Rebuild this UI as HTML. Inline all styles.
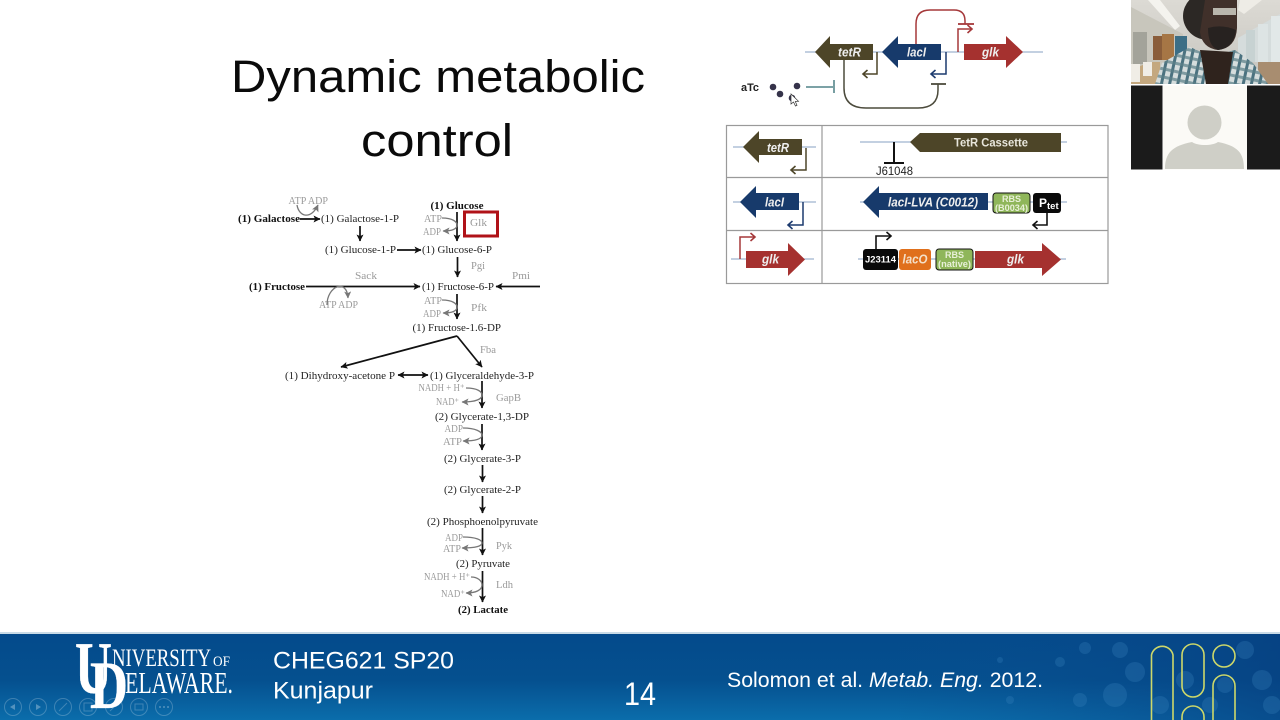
<!DOCTYPE html>
<html lang="en"><head><meta charset="utf-8"><title>Dynamic metabolic control</title>
<style>
html,body{margin:0;padding:0;background:#fff;width:1280px;height:720px;overflow:hidden}
svg{display:block}
text{font-family:"Liberation Sans",sans-serif}
.s text,text.s{font-family:"Liberation Serif",serif;font-size:10.5px;fill:#222}
.g text,text.g{font-family:"Liberation Serif",serif;font-size:10px;fill:#9a9a9a}
.b{font-weight:bold;fill:#111 !important}
.k{stroke:#111;stroke-width:1.7;fill:none}
.c{stroke:#777;stroke-width:1.3;fill:none}
.gi{font-weight:bold;font-style:italic;fill:#eee;font-size:12.5px}
</style></head><body>
<svg width="1280" height="720" viewBox="0 0 1280 720" xmlns="http://www.w3.org/2000/svg">
<defs>
<marker id="ak" markerWidth="8" markerHeight="8" refX="6.5" refY="3.5" orient="auto" markerUnits="userSpaceOnUse"><path d="M0 0L7 3.5L0 7L1.6 3.5Z" fill="#111"/></marker>
<marker id="aks" markerWidth="8" markerHeight="8" refX="0.5" refY="3.5" orient="auto" markerUnits="userSpaceOnUse"><path d="M7 0L0 3.5L7 7L5.4 3.5Z" fill="#111"/></marker>
<marker id="ag" markerWidth="8" markerHeight="8" refX="6.5" refY="3.5" orient="auto" markerUnits="userSpaceOnUse"><path d="M0 0L7 3.5L0 7L1.6 3.5Z" fill="#777"/></marker>
<marker id="ao" markerWidth="9" markerHeight="9" refX="7" refY="4.5" orient="auto" markerUnits="userSpaceOnUse"><path d="M2.5 0.5L7 4.5L2.5 8.5" fill="none" stroke="#4d4528" stroke-width="1.6"/></marker>
<marker id="an" markerWidth="9" markerHeight="9" refX="7" refY="4.5" orient="auto" markerUnits="userSpaceOnUse"><path d="M2.5 0.5L7 4.5L2.5 8.5" fill="none" stroke="#1c3a6e" stroke-width="1.6"/></marker>
<marker id="ar" markerWidth="9" markerHeight="9" refX="7" refY="4.5" orient="auto" markerUnits="userSpaceOnUse"><path d="M2.5 0.5L7 4.5L2.5 8.5" fill="none" stroke="#a5383a" stroke-width="1.6"/></marker>
<marker id="ab" markerWidth="9" markerHeight="9" refX="7" refY="4.5" orient="auto" markerUnits="userSpaceOnUse"><path d="M2.5 0.5L7 4.5L2.5 8.5" fill="none" stroke="#111" stroke-width="1.6"/></marker>
<linearGradient id="foot" x1="0" y1="0" x2="0" y2="1"><stop offset="0" stop-color="#044a8b"/><stop offset="0.55" stop-color="#05508f"/><stop offset="1" stop-color="#0b6dab"/></linearGradient>
<linearGradient id="footr" x1="0" y1="0" x2="1" y2="0"><stop offset="0" stop-color="#0b5a9c" stop-opacity="0"/><stop offset="0.7" stop-color="#0a4f90" stop-opacity="0"/><stop offset="1" stop-color="#073f80" stop-opacity=".7"/></linearGradient>
<pattern id="plaid" width="8" height="8" patternUnits="userSpaceOnUse" patternTransform="rotate(12)"><rect width="8" height="8" fill="#d5dddd"/><rect width="3" height="8" fill="#4b7280"/><rect width="8" height="3" fill="#5c7f88" opacity=".7"/></pattern>
<linearGradient id="ceil" x1="0" y1="0" x2="0" y2="1"><stop offset="0" stop-color="#dcdad4"/><stop offset="1" stop-color="#c6c4be"/></linearGradient>
</defs>

<rect width="1280" height="720" fill="#fff"/>

<!-- Title -->
<text x="231" y="92" font-size="45" fill="#0a0a0a" textLength="414" lengthAdjust="spacingAndGlyphs">Dynamic metabolic</text>
<text x="361" y="156" font-size="45" fill="#0a0a0a" textLength="152" lengthAdjust="spacingAndGlyphs">control</text>

<!-- Pathway labels -->
<g class="s">
<text x="238" y="222" class="b" textLength="62" lengthAdjust="spacingAndGlyphs">(1) Galactose</text>
<text x="321" y="222" textLength="78" lengthAdjust="spacingAndGlyphs">(1) Galactose-1-P</text>
<text x="430.5" y="209" class="b" textLength="53" lengthAdjust="spacingAndGlyphs">(1) Glucose</text>
<text x="325" y="253" textLength="71" lengthAdjust="spacingAndGlyphs">(1) Glucose-1-P</text>
<text x="422" y="253" textLength="70" lengthAdjust="spacingAndGlyphs">(1) Glucose-6-P</text>
<text x="249" y="290" class="b" textLength="56" lengthAdjust="spacingAndGlyphs">(1) Fructose</text>
<text x="422" y="290" textLength="72" lengthAdjust="spacingAndGlyphs">(1) Fructose-6-P</text>
<text x="412.5" y="331" textLength="88.5" lengthAdjust="spacingAndGlyphs">(1) Fructose-1.6-DP</text>
<text x="285" y="379" textLength="110" lengthAdjust="spacingAndGlyphs">(1) Dihydroxy-acetone P</text>
<text x="430" y="379" textLength="104" lengthAdjust="spacingAndGlyphs">(1) Glyceraldehyde-3-P</text>
<text x="435" y="420" textLength="94" lengthAdjust="spacingAndGlyphs">(2) Glycerate-1,3-DP</text>
<text x="444" y="462" textLength="77" lengthAdjust="spacingAndGlyphs">(2) Glycerate-3-P</text>
<text x="444" y="493" textLength="77" lengthAdjust="spacingAndGlyphs">(2) Glycerate-2-P</text>
<text x="427" y="525" textLength="111" lengthAdjust="spacingAndGlyphs">(2) Phosphoenolpyruvate</text>
<text x="456" y="567" textLength="54" lengthAdjust="spacingAndGlyphs">(2) Pyruvate</text>
<text x="458" y="613" class="b" textLength="50" lengthAdjust="spacingAndGlyphs">(2) Lactate</text>
</g>
<g class="g">
<text x="288.5" y="204" textLength="39.5" lengthAdjust="spacingAndGlyphs">ATP ADP</text>
<text x="424" y="222" textLength="18" lengthAdjust="spacingAndGlyphs">ATP</text>
<text x="423" y="235" textLength="18" lengthAdjust="spacingAndGlyphs">ADP</text>
<text x="470" y="226" textLength="17" lengthAdjust="spacingAndGlyphs">Glk</text>
<text x="471" y="269" textLength="14" lengthAdjust="spacingAndGlyphs">Pgi</text>
<text x="355" y="279" textLength="22" lengthAdjust="spacingAndGlyphs">Sack</text>
<text x="512" y="279" textLength="18" lengthAdjust="spacingAndGlyphs">Pmi</text>
<text x="319" y="308" textLength="39" lengthAdjust="spacingAndGlyphs">ATP ADP</text>
<text x="424" y="304" textLength="18" lengthAdjust="spacingAndGlyphs">ATP</text>
<text x="423" y="317" textLength="18" lengthAdjust="spacingAndGlyphs">ADP</text>
<text x="471" y="311" textLength="16" lengthAdjust="spacingAndGlyphs">Pfk</text>
<text x="480" y="353" textLength="16" lengthAdjust="spacingAndGlyphs">Fba</text>
<text x="418.5" y="391" textLength="46" lengthAdjust="spacingAndGlyphs">NADH + H⁺</text>
<text x="436" y="405" textLength="23" lengthAdjust="spacingAndGlyphs">NAD⁺</text>
<text x="496" y="401" textLength="25" lengthAdjust="spacingAndGlyphs">GapB</text>
<text x="444.5" y="432" textLength="18.5" lengthAdjust="spacingAndGlyphs">ADP</text>
<text x="443" y="445" textLength="19" lengthAdjust="spacingAndGlyphs">ATP</text>
<text x="445" y="541" textLength="18" lengthAdjust="spacingAndGlyphs">ADP</text>
<text x="443" y="552" textLength="18" lengthAdjust="spacingAndGlyphs">ATP</text>
<text x="496" y="549" textLength="16" lengthAdjust="spacingAndGlyphs">Pyk</text>
<text x="424" y="580" textLength="46" lengthAdjust="spacingAndGlyphs">NADH + H⁺</text>
<text x="441" y="597" textLength="24" lengthAdjust="spacingAndGlyphs">NAD⁺</text>
<text x="496" y="588" textLength="17" lengthAdjust="spacingAndGlyphs">Ldh</text>
</g>

<!-- Red box -->
<rect x="464.5" y="212" width="33" height="24" fill="none" stroke="#b01218" stroke-width="3"/>

<!-- Pathway arrows -->
<g class="k">
<path d="M300 219H320" marker-end="url(#ak)"/>
<path d="M360 226V241" marker-end="url(#ak)"/>
<path d="M457 212V241" marker-end="url(#ak)"/>
<path d="M397 250H421" marker-end="url(#ak)"/>
<path d="M457.5 257V277" marker-end="url(#ak)"/>
<path d="M306 286.5H420" marker-end="url(#ak)"/>
<path d="M540 286.5H496" marker-end="url(#ak)"/>
<path d="M457 294V319" marker-end="url(#ak)"/>
<path d="M457 336L341 367" marker-end="url(#ak)"/>
<path d="M457 336L482 367" marker-end="url(#ak)"/>
<path d="M398 375H428" marker-start="url(#aks)" marker-end="url(#ak)"/>
<path d="M482 381V408" marker-end="url(#ak)"/>
<path d="M482 424V450" marker-end="url(#ak)"/>
<path d="M482.5 465V482" marker-end="url(#ak)"/>
<path d="M482.5 496V513" marker-end="url(#ak)"/>
<path d="M482.5 528V555" marker-end="url(#ak)"/>
<path d="M482.5 571V602" marker-end="url(#ak)"/>
</g>
<g class="c">
<path d="M297 205C299 217 311 220 318 205" marker-end="url(#ag)"/>
<path d="M442 218C453 218 457 222 457 225C457 229 452 231 443 231" marker-end="url(#ag)"/>
<path d="M327 305C327 286 347 278 348 298" marker-end="url(#ag)"/>
<path d="M442 300C453 300 457 304 457 307C457 311 452 313 443 313" marker-end="url(#ag)"/>
<path d="M466 388C478 388 482 392 482 395C482 399 476 402 462 402" marker-end="url(#ag)"/>
<path d="M463 428C476 428 482 432 482 435C482 439 476 441 463 441" marker-end="url(#ag)"/>
<path d="M463 537C476 537 482 540 482 543C482 546 476 548 462 548" marker-end="url(#ag)"/>
<path d="M471 577C478 577 482 581 482 585C482 590 476 593 466 593" marker-end="url(#ag)"/>
</g>

<!-- Top circuit -->
<path d="M805 52H1043" stroke="#9fb3cf" stroke-width="1.2"/>
<polygon points="815,52 830,36 830,44 873,44 873,60 830,60 830,68" fill="#4d4528"/>
<polygon points="882,52 898,36 898,44 941,44 941,60 898,60 898,68" fill="#173a6b"/>
<polygon points="964,44 1006,44 1006,36 1023,52 1006,68 1006,60 964,60" fill="#a5312f"/>
<text x="838" y="56.5" class="gi" textLength="23" lengthAdjust="spacingAndGlyphs">tetR</text>
<text x="907" y="56.5" class="gi" textLength="19" lengthAdjust="spacingAndGlyphs">lacI</text>
<text x="982" y="56.5" class="gi" textLength="17" lengthAdjust="spacingAndGlyphs">glk</text>
<path d="M916 44V24Q916 10 930 10H954Q965 10 965 21V24" fill="none" stroke="#a5383a" stroke-width="1.5"/>
<path d="M958 24H974" stroke="#a5383a" stroke-width="1.8"/>
<path d="M958 52V29H972" fill="none" stroke="#a5383a" stroke-width="1.5" marker-end="url(#ar)"/>
<path d="M877 52V74H863" fill="none" stroke="#4d4528" stroke-width="1.5" marker-end="url(#ao)"/>
<path d="M946 52V74H931" fill="none" stroke="#1c3a6e" stroke-width="1.5" marker-end="url(#an)"/>
<path d="M844 60V88Q844 108 866 108H918Q938 108 938 90V84" fill="none" stroke="#4c4b3c" stroke-width="1.5"/>
<path d="M931 84H946" stroke="#4c4b3c" stroke-width="1.8"/>
<text x="741" y="91" font-size="11" font-weight="bold" fill="#222" textLength="18" lengthAdjust="spacingAndGlyphs">aTc</text>
<g fill="#35334a"><circle cx="773" cy="87" r="3.3"/><circle cx="780" cy="94" r="3.3"/><circle cx="797" cy="86" r="3.3"/><circle cx="792" cy="98" r="3.3"/></g>
<path d="M806 87H833M834 80V93" fill="none" stroke="#2f6b70" stroke-width="1.3"/>
<path d="M791 94V104L793.5 102L795.5 106L797 105.3L795.3 101.5L798.5 101.3Z" fill="#fff" stroke="#333" stroke-width=".7"/>

<!-- Table -->
<rect x="726.5" y="125.5" width="381.5" height="158" fill="#fff" stroke="#9a9a9a" stroke-width="1.2"/>
<path d="M822 125.5V283.5M726.5 177.5H1108M726.5 230.5H1108" stroke="#9a9a9a" stroke-width="1.2"/>

<!-- Row 1 -->
<path d="M733 147H816" stroke="#9fb3cf" stroke-width="1.2"/>
<polygon points="743,147 759,131 759,139 802,139 802,155 759,155 759,163" fill="#4d4528"/>
<text x="767" y="152" class="gi" textLength="22" lengthAdjust="spacingAndGlyphs">tetR</text>
<path d="M806 148V170H791" fill="none" stroke="#4d4528" stroke-width="1.5" marker-end="url(#ao)"/>
<path d="M860 142H1067" stroke="#9fb3cf" stroke-width="1.2"/>
<polygon points="910,142 920,133 1061,133 1061,152 920,152" fill="#4d4528"/>
<text x="954" y="146.5" font-size="12" font-weight="bold" fill="#e8e6dc" textLength="74" lengthAdjust="spacingAndGlyphs">TetR Cassette</text>
<path d="M894 142V163M884 163H904" fill="none" stroke="#111" stroke-width="2"/>
<text x="876" y="175" font-size="11.5" fill="#222" textLength="37" lengthAdjust="spacingAndGlyphs">J61048</text>

<!-- Row 2 -->
<path d="M733 202H816" stroke="#9fb3cf" stroke-width="1.2"/>
<polygon points="740,202 756,186 756,193 799,193 799,210 756,210 756,218" fill="#173a6b"/>
<text x="765" y="206.5" class="gi" textLength="19" lengthAdjust="spacingAndGlyphs">lacI</text>
<path d="M803 202V225H788" fill="none" stroke="#1c3a6e" stroke-width="1.5" marker-end="url(#an)"/>
<path d="M860 202H1067" stroke="#9fb3cf" stroke-width="1.2"/>
<polygon points="863,202 879,186 879,193 988,193 988,210 879,210 879,218" fill="#173a6b"/>
<text x="888" y="206.5" class="gi" textLength="90" lengthAdjust="spacingAndGlyphs">lacI-LVA (C0012)</text>
<rect x="993" y="193" width="37" height="20" rx="3" fill="#8fb65a" stroke="#111" stroke-width="1"/>
<text x="1011.5" y="202" font-size="9" font-weight="bold" fill="#e8f0d8" text-anchor="middle">RBS</text>
<text x="1011.5" y="211" font-size="9" font-weight="bold" fill="#e8f0d8" text-anchor="middle" textLength="33" lengthAdjust="spacingAndGlyphs">(B0034)</text>
<rect x="1033" y="193" width="28" height="20" rx="3" fill="#0a0a0a"/>
<text x="1039" y="207" font-size="12" font-weight="bold" fill="#fff">P<tspan font-size="9.5" dy="2">tet</tspan></text>
<path d="M1047 213V225H1033" fill="none" stroke="#111" stroke-width="1.6" marker-end="url(#ab)"/>

<!-- Row 3 -->
<path d="M731 259H814" stroke="#9fb3cf" stroke-width="1.2"/>
<path d="M740 259V237H755" fill="none" stroke="#a5383a" stroke-width="1.5" marker-end="url(#ar)"/>
<polygon points="746,251 788,251 788,243 805,259.5 788,276 788,268 746,268" fill="#a5312f"/>
<text x="762" y="263.5" class="gi" textLength="17" lengthAdjust="spacingAndGlyphs">glk</text>
<path d="M858 259H1066" stroke="#9fb3cf" stroke-width="1.2"/>
<path d="M876 249V236H891" fill="none" stroke="#111" stroke-width="1.6" marker-end="url(#ab)"/>
<rect x="863" y="249" width="35" height="21" rx="3" fill="#0a0a0a"/>
<text x="880.5" y="262.5" font-size="9.5" font-weight="bold" fill="#fff" text-anchor="middle" textLength="31" lengthAdjust="spacingAndGlyphs">J23114</text>
<rect x="899" y="249" width="32" height="21" rx="3" fill="#e0701c"/>
<text x="915" y="263.5" font-size="12.5" font-weight="bold" font-style="italic" fill="#f4e0c8" text-anchor="middle" textLength="25" lengthAdjust="spacingAndGlyphs">lacO</text>
<rect x="936" y="249" width="37" height="21" rx="3" fill="#8fb65a" stroke="#111" stroke-width="1"/>
<text x="954.5" y="258" font-size="9" font-weight="bold" fill="#e8f0d8" text-anchor="middle">RBS</text>
<text x="954.5" y="267" font-size="9" font-weight="bold" fill="#e8f0d8" text-anchor="middle" textLength="33" lengthAdjust="spacingAndGlyphs">(native)</text>
<polygon points="975,251 1042,251 1042,243 1061,259.5 1042,276 1042,268 975,268" fill="#a5312f"/>
<text x="1007" y="263.5" class="gi" textLength="17" lengthAdjust="spacingAndGlyphs">glk</text>

<!-- Webcam 1 -->
<svg x="1131" y="0" width="149" height="84" viewBox="1131 0 149 84">
<rect x="1131" y="0" width="149" height="84" fill="url(#ceil)"/>
<polygon points="1148,0 1160,0 1180,26 1175,30" fill="#f4f3ee"/>
<polygon points="1240,0 1262,0 1244,14 1238,10" fill="#eeece6"/>
<polygon points="1131,7 1183,34 1183,70 1131,84" fill="#c8c6bc"/>
<rect x="1133" y="32" width="14" height="32" fill="#a3a39a"/>
<rect x="1153" y="36" width="9" height="24" fill="#8a5d3a"/>
<rect x="1162" y="34" width="12" height="26" fill="#a67645"/>
<rect x="1175" y="36" width="12" height="22" fill="#3c6e86"/>
<polygon points="1131,70 1150,62 1160,62 1160,84 1131,84" fill="#c4a87f"/>
<rect x="1131" y="64" width="9" height="18" fill="#f0ede6"/>
<rect x="1143" y="62" width="9" height="14" fill="#f0ede6"/>
<polygon points="1238,38 1280,14 1280,62 1238,62" fill="#d5dcdc"/>
<rect x="1246" y="30" width="9" height="32" fill="#c7d2d2"/>
<rect x="1258" y="24" width="10" height="38" fill="#dde4e4"/>
<rect x="1271" y="16" width="9" height="46" fill="#e2e8e8"/>
<rect x="1258" y="62" width="22" height="22" fill="#a88d70"/>
<polygon points="1155,84 1162,63 1190,47 1210,56 1235,50 1253,63 1268,84" fill="url(#plaid)"/>
<polygon points="1200,50 1206,84 1228,84 1233,52" fill="#2f231d"/>
<ellipse cx="1208" cy="16" rx="25" ry="24" fill="#2c2825"/>
<path d="M1205 0H1237V28Q1236 48 1218 50Q1202 48 1200 32Z" fill="#40302a"/>
<path d="M1213 8H1236V15H1213Z" fill="#b9b6ad"/>
<path d="M1208 28Q1222 24 1236 30Q1234 48 1218 50Q1208 46 1208 28Z" fill="#272220"/>
</svg>

<!-- Webcam 2 -->
<rect x="1131" y="85" width="149" height="85" fill="#fff"/>
<rect x="1131" y="85.5" width="31.5" height="84" fill="#1b1b1b"/>
<rect x="1163" y="85.5" width="84" height="84" fill="#fbfaf6"/>
<rect x="1247" y="85.5" width="33" height="84" fill="#1b1b1b"/>
<circle cx="1204.5" cy="122.5" r="17" fill="#cfcfc7"/>
<path d="M1165 169C1165 153 1172 146 1192 142C1198 146 1212 146 1218 142C1238 146 1244 153 1244 169Z" fill="#cfcfc7"/>

<!-- Footer -->
<rect x="0" y="632" width="1280" height="88" fill="url(#foot)"/>
<rect x="0" y="632" width="1280" height="88" fill="url(#footr)"/>
<rect x="0" y="632" width="1280" height="2" fill="#c9dbe7"/>
<g fill="#3c86c0" opacity=".28">
<circle cx="1120" cy="650" r="8"/><circle cx="1135" cy="672" r="10"/><circle cx="1115" cy="695" r="12"/><circle cx="1160" cy="705" r="9"/><circle cx="1210" cy="705" r="8"/><circle cx="1245" cy="650" r="9"/><circle cx="1262" cy="680" r="10"/><circle cx="1272" cy="705" r="9"/><circle cx="1060" cy="662" r="5"/><circle cx="1085" cy="648" r="6"/><circle cx="1080" cy="700" r="7"/><circle cx="1010" cy="700" r="4"/><circle cx="1000" cy="660" r="3"/><circle cx="1185" cy="680" r="9"/><circle cx="1225" cy="685" r="8"/>
</g>

<!-- Logo -->
<g fill="#fff" stroke="#fff">
<text x="75" y="693" style="font-family:'Liberation Serif',serif;font-weight:bold" font-size="74" stroke-width="0.3" textLength="37" lengthAdjust="spacingAndGlyphs">U</text>
<text x="90" y="708" style="font-family:'Liberation Serif',serif;font-weight:bold" font-size="68" stroke-width="0.3" textLength="38" lengthAdjust="spacingAndGlyphs">D</text>
<text x="112" y="666" style="font-family:'Liberation Serif',serif" font-size="25" stroke-width="0" textLength="99" lengthAdjust="spacingAndGlyphs">NIVERSITY</text>
<text x="213" y="666" style="font-family:'Liberation Serif',serif" font-size="15" stroke-width="0" textLength="17" lengthAdjust="spacingAndGlyphs">OF</text>
<text x="125" y="693" style="font-family:'Liberation Serif',serif" font-size="31" stroke-width="0" textLength="108" lengthAdjust="spacingAndGlyphs">ELAWARE.</text>
</g>

<!-- Player controls -->
<g fill="none" stroke="#fff" stroke-opacity=".22" stroke-width="1">
<circle cx="13" cy="707" r="8.5"/><circle cx="38" cy="707" r="8.5"/><circle cx="63" cy="707" r="8.5"/><circle cx="88" cy="707" r="8.5"/><circle cx="114" cy="707" r="8.5"/><circle cx="139" cy="707" r="8.5"/><circle cx="164" cy="707" r="8.5"/>
<path d="M59 711L67 703M110 711L114 707"/><rect x="84" y="703" width="8" height="8"/><rect x="135" y="704" width="8" height="6"/>
</g>
<g fill="#fff" fill-opacity=".3"><path d="M15 704L10 707L15 710Z"/><path d="M36 704L41 707L36 710Z"/><circle cx="160" cy="707" r="1"/><circle cx="164" cy="707" r="1"/><circle cx="168" cy="707" r="1"/></g>

<!-- Footer text -->
<text x="273" y="668.5" font-size="24" fill="#fff" textLength="181" lengthAdjust="spacingAndGlyphs">CHEG621 SP20</text>
<text x="273" y="698.5" font-size="24" fill="#fff" textLength="100" lengthAdjust="spacingAndGlyphs">Kunjapur</text>
<text x="624" y="705" font-size="32" fill="#fff" textLength="32" lengthAdjust="spacingAndGlyphs">14</text>
<text x="727" y="687" font-size="21" fill="#fff" textLength="316" lengthAdjust="spacingAndGlyphs">Solomon et al. <tspan font-style="italic">Metab. Eng.</tspan> 2012.</text>

<!-- UD pattern -->
<g fill="none" stroke="#cdd86a" stroke-width="1.6">
<path d="M1151.5 720V655A11 11 0 0 1 1173 655V720"/>
<rect x="1182" y="644" width="22" height="53" rx="11"/>
<path d="M1182 720V717A11 11 0 0 1 1204 717V720"/>
<circle cx="1224" cy="656" r="11"/>
<path d="M1213 720V686A11 11 0 0 1 1235 686V720"/>
</g>
</svg>
</body></html>
